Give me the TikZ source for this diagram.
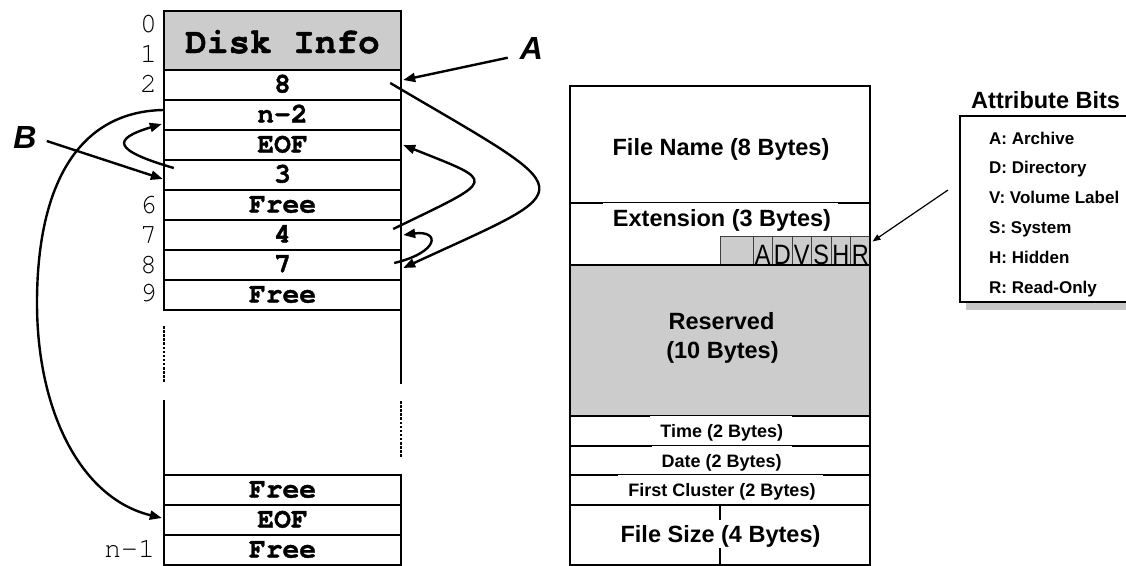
\documentclass[tikz,border=0pt]{standalone}
\usepackage{fontspec}
\setmainfont{Liberation Sans}
\newfontfamily\cour{TeX Gyre Cursor}[BoldFeatures={FakeBold=1.3}]
\usetikzlibrary{arrows.meta,calc}
\definecolor{boxgray}{RGB}{204,204,204}
\newcommand\nrw[1]{\scalebox{0.84}[1]{#1}}
\begin{document}
\begin{tikzpicture}[x=1pt,y=-1pt,
  tbl/.style={line width=2.6pt, line cap=rect},
  dotl/.style={line width=2.6pt, dash pattern=on 2.5pt off 1.6pt},
  arr/.style={line width=2.4pt, -{Triangle[length=12pt,width=9pt]}},
  thinarr/.style={line width=1.2pt, -{Triangle[length=8pt,width=6pt]}},
  rowbox/.style={minimum width=237pt, minimum height=30pt, inner sep=0pt, text height=15pt, text depth=0pt, font=\cour\bfseries\fontsize{28}{28}\selectfont},
  numlab/.style={anchor=base east, inner sep=0pt, font=\cour\fontsize{28}{28}\selectfont},
  bigtxt/.style={anchor=base, inner sep=0pt, font=\bfseries\fontsize{23.5}{23.5}\selectfont},
  smalltxt/.style={anchor=base, inner sep=0pt, font=\bfseries\fontsize{18}{18}\selectfont},
  cellbox/.style={draw=black!75, line width=0.9pt, fill=boxgray, minimum width=19.5pt, minimum height=29pt, inner sep=0pt, text height=28pt, text depth=0pt, font=\fontsize{28}{28}\selectfont},
  itemtxt/.style={anchor=base west, inner sep=0pt, font=\bfseries\fontsize{17}{17}\selectfont},
  letlab/.style={inner sep=0pt, font=\bfseries\itshape\fontsize{32}{32}\selectfont}
]
\useasboundingbox (0,0) rectangle (1126,565);

% ---------------- left table (FAT) ----------------
\fill[boxgray] (164,11) rectangle (401,70);
\draw[tbl] (164,11) -- (401,11);
\foreach \yy in {70,100,130,160,190,220,250,280,310,475,505,535,565}
  \draw[tbl] (164,\yy) -- (401,\yy);
\draw[tbl] (164,11) -- (164,310);
\draw[dotl] (164,326) -- (164,382);
\draw[tbl] (164,401) -- (164,565);
\draw[tbl] (401,11) -- (401,383);
\draw[dotl] (401,401) -- (401,458);
\draw[tbl] (401,475) -- (401,565);

\node[rowbox, minimum height=59pt, text height=25pt, font=\cour\bfseries\fontsize{36}{36}\selectfont] (rDI) at (282.5,40.5) {Disk Info};
\node[rowbox] (r2) at (282.5,85) {8};
\node[rowbox] (r3) at (282.5,115) {n-2};
\node[rowbox] (r4) at (282.5,145) {EOF};
\node[rowbox] (r5) at (282.5,175) {3};
\node[rowbox] (r6) at (282.5,205) {Free};
\node[rowbox] (r7) at (282.5,235) {4};
\node[rowbox] (r8) at (282.5,265) {7};
\node[rowbox] (r9) at (282.5,295) {Free};
\node[rowbox] (rF) at (282.5,490) {Free};
\node[rowbox] (rE) at (282.5,520) {EOF};
\node[rowbox] (rN) at (282.5,550) {Free};

\node[numlab] (n0) at (157,32) {0};
\node[numlab] (n1) at (157,62) {1};
\node[numlab] (n2) at (157,92) {2};
\node[numlab] (n6) at (157,213) {6};
\node[numlab] (n7) at (157,243) {7};
\node[numlab] (n8) at (157,273) {8};
\node[numlab] (n9) at (157,301) {9};
\node[numlab] (nn) at (155,557) {n-1};

\node[letlab] (labA) at (531.5,48) {A};
\node[letlab] (labB) at (25,137.5) {B};

% arrows of the cluster chains
\draw[arr] ($(labA.south west)+(-12,-1.5)$) -- ($(r2.east)+(2,-5)$);
\draw[arr] ($(r2.east)+(-11,-2)$) .. controls (585,198) and (585,184) .. ($(r8.east)+(2,3)$);
\draw[arr] ($(r7.east)+(-8,-6)$) .. controls (498,178) and (498,183) .. ($(r4.east)+(2,0)$);
\draw[arr] ($(r8.east)+(-7,-2)$) .. controls (440,252) and (440,230) .. ($(r7.east)+(2,0)$);
\draw[arr] ($(labB.east)+(10,3.5)$) -- ($(r5.west)+(-1,4)$);
\draw[arr] ($(r5.west)+(10,-7)$) .. controls (112,150) and (112,139) .. ($(r3.west)+(-2,9)$);
\draw[arr] ($(r3.west)+(-1,-5)$) .. controls (75,112) and (37,190) .. (37,303)
           .. controls (37,410) and (80,498) .. ($(rE.west)+(-2,-2)$);

% ---------------- right table (directory entry) ----------------
\fill[boxgray] (570,265) rectangle (870,416);
\node[cellbox, minimum width=33pt] (c0) at (736.5,250.5) {};
\node[cellbox] (cA) at (762.75,250.5) {\nrw{A}};
\node[cellbox] (cD) at (782.25,250.5) {\nrw{D}};
\node[cellbox] (cV) at (801.75,250.5) {\nrw{V}};
\node[cellbox] (cS) at (821.25,250.5) {\nrw{S}};
\node[cellbox] (cH) at (840.75,250.5) {\nrw{H}};
\node[cellbox] (cR) at (860.25,250.5) {\nrw{R}};
\foreach \yy in {86,203,265,416,446,475,505,565}
  \draw[tbl] (570,\yy) -- (870,\yy);
\draw[tbl] (570,86) -- (570,565);
\draw[tbl] (870,86) -- (870,565);
\draw[line width=1.3pt] (720,505) -- (720,520);
\draw[line width=1.3pt] (720,548) -- (720,565);
% text boxes slightly covering some lines
\fill[white] (603,203.3) rectangle (838,205);
\fill[white] (650,416.3) rectangle (792,418);
\fill[white] (652,446.3) rectangle (792,448);
\fill[white] (618,475.3) rectangle (823,477);

\node[bigtxt] (tFN) at (721,155) {File Name (8 Bytes)};
\node[bigtxt] (tEX) at (722,226.7) {Extension (3 Bytes)};
\node[bigtxt] (tR1) at (721.5,329.3) {Reserved};
\node[bigtxt] (tR2) at (722.5,358.3) {(10 Bytes)};
\node[smalltxt] (tTI) at (721.8,437.3) {Time (2 Bytes)};
\node[smalltxt] (tDA) at (721.7,467.3) {Date (2 Bytes)};
\node[smalltxt] (tFC) at (722,496.7) {First Cluster (2 Bytes)};
\node[bigtxt] (tFS) at (720.5,542.7) {File Size (4 Bytes)};

% ---------------- attribute legend ----------------
\fill[black!22] (966,122) rectangle (1140,309.5);
\draw[line width=1.5pt, fill=white] (960,116) rectangle (1140,302);
\node[anchor=base west, inner sep=0pt, font=\bfseries\fontsize{23.5}{23.5}\selectfont] (title) at (971,108) {Attribute Bits};
\node[itemtxt] (iA) at (989,144) {A: Archive};
\node[itemtxt] (iD) at (989,173.8) {D: Directory};
\node[itemtxt] (iV) at (989,203.6) {V: Volume Label};
\node[itemtxt] (iS) at (989,233.4) {S: System};
\node[itemtxt] (iH) at (989,263.2) {H: Hidden};
\node[itemtxt] (iR) at (989,293) {R: Read-Only};
\coordinate (ptr) at (948,190);
\draw[thinarr] (ptr) -- ($(cR.east)+(2,-9)$);
\end{tikzpicture}
\end{document}
